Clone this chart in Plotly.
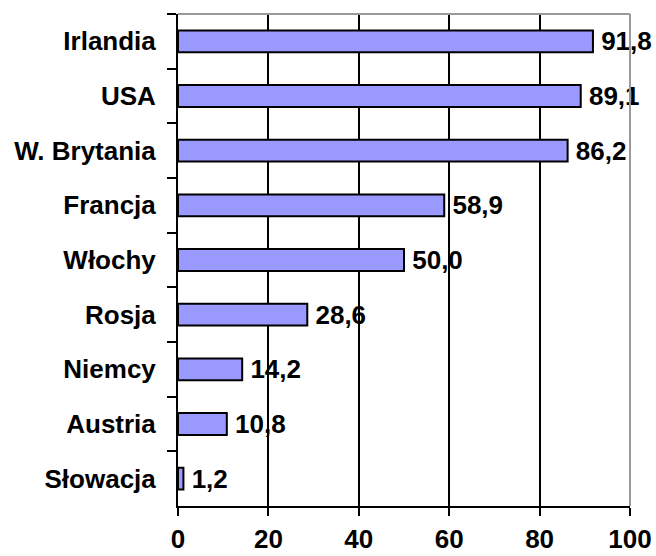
import plotly.graph_objects as go

countries = ["Irlandia", "USA", "W. Brytania", "Francja", "Włochy", "Rosja", "Niemcy", "Austria", "Słowacja"]
values = [91.8, 89.1, 86.2, 58.9, 50.0, 28.6, 14.2, 10.8, 1.2]
x_ticks = [0, 20, 40, 60, 80, 100]

FONT = "Liberation Sans, Arial, sans-serif"
fs = 26

fig = go.Figure(go.Bar(
    x=values, y=countries, orientation="h",
    marker=dict(color="#9999FF", line=dict(color="black", width=2)),
    texttemplate="\u2009%{x:.1f}", textposition="outside", constraintext="none",
    textfont=dict(family=FONT, size=fs, color="black", weight="bold"),
    cliponaxis=False,
))

fig.update_layout(
    width=656, height=556,
    margin=dict(l=178, r=26, t=14, b=50),
    plot_bgcolor="white", paper_bgcolor="white",
    separators=",.",
    bargap=0.6,
    showlegend=False,
    font=dict(family=FONT, size=fs, color="black", weight="bold"),
    xaxis=dict(range=[0, 100], tickvals=x_ticks, showgrid=True, gridcolor="black", gridwidth=2,
               zeroline=False, showline=True, linecolor="black", linewidth=2, automargin=False,
               ticks="outside", ticklen=8, tickwidth=2, tickcolor="black", ticklabelstandoff=1,
               tickfont=dict(family=FONT, size=fs, color="black", weight="bold")),
    yaxis=dict(categoryorder="array", categoryarray=countries, autorange="reversed",
               showline=True, linecolor="black", linewidth=2, automargin=False,
               ticks="outside", ticklen=9, tickwidth=2, tickcolor="black", tickson="boundaries",
               ticklabelstandoff=15, showgrid=False,
               tickfont=dict(family=FONT, size=fs, color="black", weight="bold")),
    shapes=[
        dict(type="line", xref="paper", yref="paper", x0=0, x1=1, y0=1, y1=1,
             line=dict(color="#999999", width=2), layer="above"),
        dict(type="line", xref="paper", yref="paper", x0=1, x1=1, y0=0, y1=1,
             line=dict(color="#999999", width=2), layer="above"),
    ],
)

fig.write_html(
    "out.html",
    config={"displayModeBar": False},
    post_script="document.body.style.margin='0';document.body.style.overflow='hidden';",
)
